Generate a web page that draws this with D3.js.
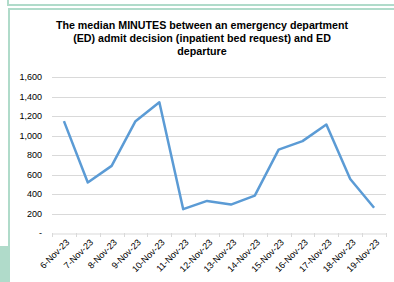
<!DOCTYPE html>
<html><head><meta charset="utf-8">
<script src="https://cdn.jsdelivr.net/npm/d3@7"></script>
<style>html,body{margin:0;padding:0;background:#fff;}svg{display:block;}</style>
</head><body>
<script>
const categories = ["6-Nov-23","7-Nov-23","8-Nov-23","9-Nov-23","10-Nov-23","11-Nov-23","12-Nov-23","13-Nov-23","14-Nov-23","15-Nov-23","16-Nov-23","17-Nov-23","18-Nov-23","19-Nov-23"];
const values = [1150, 520, 690, 1150, 1345, 245, 330, 292, 385, 858, 945, 1115, 555, 260];
const yTicks = [0, 200, 400, 600, 800, 1000, 1200, 1400, 1600];
const titleLines = ["The median MINUTES between an emergency department","(ED) admit decision (inpatient bed request) and ED","departure"];

const W = 394, H = 282;
const svg = d3.select("body").append("svg").attr("width", W).attr("height", H);
const green = "#b0dbca";

// frame decorations
svg.append("rect").attr("x", 7).attr("y", 0).attr("width", 2).attr("height", 6).attr("fill", green);
svg.append("rect").attr("x", 7).attr("y", 4).attr("width", W - 7).attr("height", 2).attr("fill", green);
svg.append("rect").attr("x", 8).attr("y", 8).attr("width", W - 8).attr("height", 2).attr("fill", green);
svg.append("rect").attr("x", 8).attr("y", 8).attr("width", 2).attr("height", H - 8).attr("fill", green);
svg.append("rect").attr("x", 0).attr("y", 246).attr("width", 8).attr("height", H - 246).attr("fill", green);

const x = d3.scaleBand().domain(categories).range([52, 386]);
const y = d3.scaleLinear().domain([0, 1600]).range([233, 77.4]);

// title
svg.append("g").selectAll("text").data(titleLines).join("text")
  .attr("x", 202).attr("y", (d, i) => 29 + i * 13)
  .attr("text-anchor", "middle")
  .attr("font-family", "Liberation Sans, Arial, sans-serif")
  .attr("font-weight", "bold").attr("font-size", "10.7px").attr("fill", "#000")
  .text(d => d);

// gridlines
svg.append("g").selectAll("line").data(yTicks.filter(d => d > 0)).join("line")
  .attr("x1", 52).attr("x2", 386)
  .attr("y1", d => Math.round(y(d)) + 0.5).attr("y2", d => Math.round(y(d)) + 0.5)
  .attr("stroke", "#d9d9d9").attr("stroke-width", 1);

// y axis labels
svg.append("g").selectAll("text").data(yTicks).join("text")
  .attr("x", 42).attr("y", d => y(d) + 3)
  .attr("text-anchor", "end")
  .attr("font-family", "Liberation Sans, Arial, sans-serif")
  .attr("font-size", "9px").attr("fill", "#000")
  .text(d => d === 0 ? "-" : d3.format(",")(d));

// x axis
const xAxis = d3.axisBottom(x).tickSize(0).tickFormat("");
const gx = svg.append("g").attr("transform", `translate(0,${Math.round(y(0)) + 0.5})`).call(xAxis);
gx.select(".domain").attr("stroke", "#d9d9d9");
// category boundary ticks
const bounds = categories.map(c => x(c)).concat([x.range()[1]]);
svg.append("g").selectAll("line").data(bounds).join("line")
  .attr("x1", d => Math.round(d) + 0.5).attr("x2", d => Math.round(d) + 0.5)
  .attr("y1", Math.round(y(0))).attr("y2", Math.round(y(0)) + 4)
  .attr("stroke", "#d9d9d9");

svg.append("g").selectAll("text").data(categories).join("text")
  .attr("transform", d => `translate(${x(d) + x.bandwidth() / 2 + 6},${y(0) + 10}) rotate(-45)`)
  .attr("text-anchor", "end")
  .attr("font-family", "Liberation Sans, Arial, sans-serif")
  .attr("font-size", "9px").attr("fill", "#000")
  .text(d => d);

// line
const line = d3.line().x((d, i) => x(categories[i]) + x.bandwidth() / 2).y(d => y(d));
svg.append("path").datum(values).attr("d", line)
  .attr("fill", "none").attr("stroke", "#5b9bd5").attr("stroke-width", 2.5)
  .attr("stroke-linejoin", "round");
</script>
</body></html>
